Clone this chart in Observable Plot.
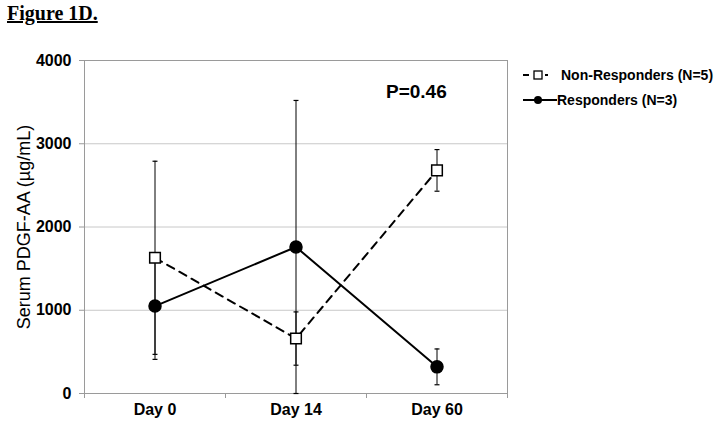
<!DOCTYPE html>
<html><head><meta charset="utf-8">
<script src="https://cdn.jsdelivr.net/npm/d3@7"></script>
<script src="https://cdn.jsdelivr.net/npm/@observablehq/plot@0.6"></script>
<style>
body{margin:0;background:#fff;}
#wrap{position:relative;width:724px;height:428px;font-family:"Liberation Sans",Arial,sans-serif;}
#title{position:absolute;left:7px;top:3px;font-family:"Liberation Serif","Times New Roman",serif;font-weight:bold;font-size:20px;text-decoration:underline;text-decoration-thickness:2px;line-height:1;}
#pval{position:absolute;left:386px;top:82px;font-weight:bold;font-size:19px;line-height:1;}
#legend{position:absolute;left:520px;top:62px;font-weight:bold;font-size:14px;}
#legend .item{display:flex;align-items:center;height:25px;white-space:nowrap;}
#legend svg{display:block;}
</style></head>
<body><div id="wrap"><div id="title"></div><div id="pval"></div><div id="legend"></div></div>
<script>
const days = ["Day 0", "Day 14", "Day 60"];
const seriesNames = ["Non-Responders (N=5)", "Responders (N=3)"];
const nonResponders = [1630, 660, 2680];
const nonRespondersErr = [1160, 320, 250];
const responders = [1050, 1760, 320];
const respondersErr = [640, 1760, 215];
const yTicks = [0, 1000, 2000, 3000, 4000];
const pValue = "P=0.46";
const titleText = "Figure 1D.";
const yLabel = "Serum PDGF-AA (µg/mL)";

const rows = [];
days.forEach((d, i) => {
  rows.push({series: seriesNames[0], i, day: d, v: nonResponders[i], e: nonRespondersErr[i]});
  rows.push({series: seriesNames[1], i, day: d, v: responders[i], e: respondersErr[i]});
});
const nr = rows.filter(r => r.series === seriesNames[0]);
const rs = rows.filter(r => r.series === seriesNames[1]);
const capSymbol = {draw(ctx, size) { const r = Math.sqrt(size) / 2; ctx.moveTo(-r, 0); ctx.lineTo(r, 0); }};

const plot = Plot.plot({
  width: 724, height: 428,
  marginLeft: 84, marginRight: 217, marginTop: 60, marginBottom: 35,
  style: {fontFamily: '"Liberation Sans", Arial, sans-serif', fontSize: "16px", fontWeight: "bold", color: "#000", background: "#fff"},
  x: {type: "linear", domain: [-0.5, days.length - 0.5]},
  y: {domain: [0, 4000]},
  marks: [
    Plot.gridY(yTicks, {stroke: "#c8c8c8", strokeOpacity: 1}),
    Plot.frame({stroke: "#9a9a9a"}),
    Plot.axisY({ticks: yTicks, tickSize: 5, tickPadding: 8, stroke: "#9a9a9a", label: null, tickFormat: d => String(d), fontSize: 16}),
    Plot.axisX({ticks: d3.range(-0.5, days.length), tickSize: 5, tickFormat: () => "", stroke: "#9a9a9a", label: null}),
    Plot.axisX({ticks: d3.range(days.length), tickSize: 0, tickPadding: 10, tickFormat: i => days[i], label: null, fontSize: 16}),
    Plot.text([yLabel], {frameAnchor: "left", rotate: -90, dx: -60, textAnchor: "middle", fontWeight: "normal", fontSize: 18}),
    Plot.ruleX(rows, {x: "i", y1: d => Math.max(0, d.v - d.e), y2: d => d.v + d.e, stroke: "#000", strokeWidth: 1}),
    Plot.dot(rows, {x: "i", y: d => d.v + d.e, symbol: capSymbol, r: 2.8, stroke: "#000", strokeWidth: 1.2}),
    Plot.dot(rows, {x: "i", y: d => Math.max(0, d.v - d.e), symbol: capSymbol, r: 2.8, stroke: "#000", strokeWidth: 1.2}),
    Plot.line(nr, {x: "i", y: "v", stroke: "#000", strokeWidth: 2, strokeDasharray: "8,6"}),
    Plot.line(rs, {x: "i", y: "v", stroke: "#000", strokeWidth: 2}),
    Plot.dot(nr, {x: "i", y: "v", symbol: "square", r: 6, fill: "#fff", stroke: "#000", strokeWidth: 1.5}),
    Plot.dot(rs, {x: "i", y: "v", r: 6, fill: "#000", stroke: "#000"})
  ]
});
const wrap = document.getElementById("wrap");
wrap.insertBefore(plot, wrap.firstChild);
plot.style.position = "absolute"; plot.style.left = "0"; plot.style.top = "0";
document.getElementById("title").textContent = titleText;
document.getElementById("pval").textContent = pValue;
const legend = document.getElementById("legend");
const swatches = [
  `<svg width="40" height="14"><line x1="3" y1="7" x2="28" y2="7" stroke="#000" stroke-width="2" stroke-dasharray="6,5"/><rect x="14" y="3" width="8" height="8" fill="#fff" stroke="#000" stroke-width="1.3"/></svg>`,
  `<svg width="37" height="14"><line x1="3" y1="7" x2="37" y2="7" stroke="#000" stroke-width="2"/><circle cx="18" cy="7" r="4" fill="#000"/></svg>`
];
seriesNames.forEach((name, k) => {
  const item = document.createElement("div");
  item.className = "item";
  item.innerHTML = swatches[k] + `<span style="margin-left:${k === 0 ? 1 : 0}px">${name}</span>`;
  legend.appendChild(item);
});
</script>
</body></html>
